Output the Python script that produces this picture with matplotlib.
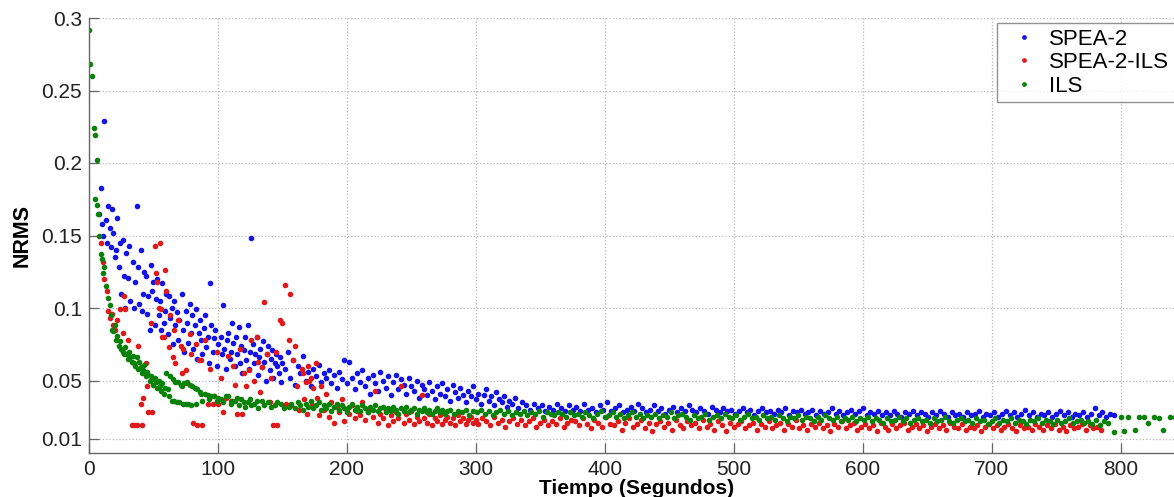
import matplotlib
matplotlib.use('Agg')
import matplotlib.pyplot as plt

plt.rcParams['font.family'] = ['Liberation Sans', 'DejaVu Sans']

# ---- SPEA-2 : (tiempo, NRMS) for the first ~375 s
spea2_early = [
    (8, 0.165), (9, 0.183), (10, 0.158), (11, 0.150), (12, 0.229), (13, 0.161), (14, 0.145),
    (15, 0.170), (16, 0.155), (17, 0.142), (18, 0.168), (19, 0.152), (20, 0.135), (21, 0.140),
    (22, 0.162), (23, 0.128), (24, 0.145), (25, 0.110), (26, 0.147), (27, 0.122), (28, 0.100),
    (29, 0.138), (30, 0.121), (31, 0.143), (32, 0.105), (34, 0.132), (35, 0.100), (36, 0.118),
    (37, 0.170), (38, 0.128), (39, 0.103), (40, 0.140), (41, 0.098), (42, 0.110), (43, 0.125),
    (44, 0.122), (45, 0.096), (46, 0.108), (47, 0.085), (48, 0.130), (49, 0.112), (50, 0.118),
    (51, 0.088), (52, 0.106), (53, 0.120), (54, 0.095), (55, 0.105), (56, 0.085), (57, 0.117),
    (58, 0.090), (59, 0.098), (60, 0.110), (61, 0.082), (62, 0.108), (63, 0.093), (64, 0.100),
    (65, 0.075), (66, 0.105), (67, 0.088), (68, 0.097), (69, 0.078), (70, 0.092), (72, 0.110),
    (73, 0.085), (74, 0.070), (75, 0.098), (76, 0.090), (77, 0.076), (78, 0.103), (79, 0.083),
    (80, 0.095), (81, 0.072), (82, 0.088), (83, 0.099), (84, 0.065), (85, 0.083), (86, 0.092),
    (87, 0.078), (88, 0.068), (89, 0.086), (90, 0.095), (91, 0.073), (92, 0.080), (93, 0.062),
    (94, 0.117), (95, 0.088), (96, 0.070), (97, 0.079), (98, 0.085), (99, 0.060), (100, 0.075),
    (102, 0.080), (103, 0.068), (104, 0.102), (105, 0.072), (106, 0.058), (107, 0.078),
    (108, 0.083), (109, 0.065), (110, 0.070), (111, 0.090), (112, 0.076), (113, 0.060),
    (114, 0.080), (115, 0.068), (116, 0.087), (117, 0.062), (118, 0.074), (119, 0.055),
    (120, 0.071), (121, 0.080), (122, 0.064), (123, 0.088), (124, 0.058), (125, 0.070),
    (126, 0.148), (127, 0.075), (128, 0.062), (129, 0.068), (130, 0.080), (131, 0.054),
    (132, 0.066), (133, 0.072), (134, 0.059), (135, 0.077), (136, 0.063), (137, 0.050),
    (138, 0.068), (139, 0.074), (140, 0.057), (141, 0.065), (142, 0.071), (143, 0.052),
    (144, 0.062), (145, 0.068), (146, 0.060), (147, 0.055), (148, 0.066), (149, 0.049),
    (150, 0.062), (152, 0.058), (154, 0.070), (156, 0.052), (158, 0.064), (160, 0.047),
    (162, 0.060), (164, 0.055), (166, 0.067), (168, 0.050), (170, 0.056), (172, 0.046),
    (174, 0.058), (176, 0.053), (178, 0.061), (180, 0.049), (182, 0.055), (184, 0.052),
    (186, 0.057), (188, 0.048), (190, 0.054), (192, 0.045), (194, 0.056), (196, 0.051),
    (198, 0.064), (200, 0.048), (202, 0.063), (204, 0.052), (206, 0.044), (208, 0.055),
    (210, 0.049), (212, 0.057), (214, 0.046), (216, 0.052), (218, 0.041), (220, 0.054),
    (222, 0.048), (224, 0.043), (226, 0.056), (228, 0.050), (230, 0.045), (232, 0.053),
    (234, 0.040), (236, 0.049), (238, 0.054), (240, 0.044), (242, 0.051), (244, 0.047),
    (246, 0.041), (248, 0.052), (250, 0.046), (252, 0.043), (254, 0.050), (256, 0.038),
    (258, 0.047), (260, 0.044), (262, 0.040), (264, 0.049), (266, 0.043), (268, 0.037),
    (270, 0.046), (272, 0.041), (274, 0.048), (276, 0.039), (278, 0.044), (280, 0.036),
    (282, 0.047), (284, 0.042), (286, 0.038), (288, 0.045), (290, 0.040), (292, 0.035),
    (294, 0.043), (296, 0.039), (298, 0.046), (300, 0.037), (302, 0.041), (304, 0.034),
    (306, 0.040), (308, 0.044), (310, 0.036), (312, 0.039), (314, 0.033), (316, 0.042),
    (318, 0.037), (320, 0.035), (322, 0.039), (324, 0.032), (326, 0.036), (328, 0.034),
    (330, 0.038), (333, 0.031), (336, 0.035), (339, 0.033), (342, 0.030), (345, 0.034),
    (348, 0.031), (351, 0.033), (354, 0.029), (357, 0.032), (360, 0.030), (363, 0.034),
    (366, 0.031), (369, 0.029), (372, 0.033), (375, 0.030),
]
spea2_late_t = [
    378, 381, 384, 387, 390, 393, 396, 399, 402, 405,
    408, 411, 414, 417, 420, 423, 426, 429, 432, 435,
    438, 441, 444, 447, 450, 453, 456, 459, 462, 465,
    468, 471, 474, 477, 480, 483, 486, 489, 492, 495,
    498, 501, 504, 507, 510, 513, 516, 519, 522, 525,
    528, 531, 534, 537, 540, 543, 546, 549, 552, 555,
    558, 561, 564, 567, 570, 573, 576, 579, 582, 585,
    588, 591, 594, 597, 600, 603, 606, 609, 612, 615,
    618, 621, 624, 627, 630, 633, 636, 639, 642, 645,
    648, 651, 654, 657, 660, 663, 666, 669, 672, 675,
    678, 681, 684, 687, 690, 693, 696, 699, 702, 705,
    708, 711, 714, 717, 720, 723, 726, 729, 732, 735,
    738, 741, 744, 747, 750, 753, 756, 759, 762, 765,
    768, 771, 774, 777, 780, 783, 786, 789, 792, 795,
]
spea2_late_v = [
    0.032, 0.029, 0.034, 0.030, 0.031, 0.028, 0.033, 0.030, 0.035, 0.029,
    0.031, 0.033, 0.028, 0.030, 0.032, 0.029, 0.034, 0.031, 0.028, 0.030,
    0.033, 0.029, 0.031, 0.027, 0.030, 0.032, 0.028, 0.031, 0.029, 0.033,
    0.030, 0.028, 0.031, 0.029, 0.027, 0.032, 0.030, 0.028, 0.031, 0.029,
    0.030, 0.027, 0.029, 0.031, 0.028, 0.030, 0.026, 0.029, 0.031, 0.028,
    0.029, 0.027, 0.030, 0.028, 0.031, 0.026, 0.029, 0.028, 0.030, 0.027,
    0.028, 0.030, 0.026, 0.029, 0.027, 0.028, 0.031, 0.027, 0.029, 0.026,
    0.028, 0.030, 0.027, 0.029, 0.031, 0.026, 0.028, 0.027, 0.029, 0.026,
    0.028, 0.026, 0.029, 0.027, 0.025, 0.028, 0.027, 0.029, 0.026, 0.028,
    0.027, 0.025, 0.028, 0.026, 0.029, 0.027, 0.025, 0.028, 0.026, 0.027,
    0.025, 0.028, 0.026, 0.027, 0.029, 0.025, 0.027, 0.026, 0.028, 0.025,
    0.027, 0.029, 0.026, 0.028, 0.025, 0.027, 0.030, 0.026, 0.028, 0.025,
    0.027, 0.026, 0.028, 0.025, 0.027, 0.029, 0.026, 0.028, 0.025, 0.027,
    0.026, 0.028, 0.025, 0.027, 0.031, 0.026, 0.028, 0.025, 0.027, 0.026,
]

# ---- SPEA-2-ILS
spea2ils_early = [
    (9, 0.145), (11, 0.132), (12, 0.120), (14, 0.112), (15, 0.098), (16, 0.093), (18, 0.096),
    (19, 0.088), (20, 0.085), (22, 0.092), (24, 0.099), (26, 0.083), (27, 0.108), (28, 0.099),
    (30, 0.078), (33, 0.019), (35, 0.019), (37, 0.019), (38, 0.074), (40, 0.034), (41, 0.019),
    (42, 0.038), (44, 0.062), (45, 0.046), (46, 0.028), (48, 0.090), (49, 0.028), (51, 0.143),
    (52, 0.124), (53, 0.118), (54, 0.100), (55, 0.145), (56, 0.099), (57, 0.080), (58, 0.080),
    (59, 0.126), (60, 0.112), (62, 0.073), (63, 0.095), (65, 0.066), (66, 0.085), (67, 0.062),
    (69, 0.092), (71, 0.074), (72, 0.055), (73, 0.072), (75, 0.057), (76, 0.048), (78, 0.082),
    (79, 0.068), (81, 0.021), (83, 0.075), (84, 0.019), (85, 0.064), (87, 0.064), (88, 0.019),
    (90, 0.078), (92, 0.034), (94, 0.058), (96, 0.034), (97, 0.039), (99, 0.070), (100, 0.034),
    (102, 0.052), (104, 0.028), (106, 0.038), (108, 0.067), (110, 0.036), (112, 0.060),
    (113, 0.047), (115, 0.027), (117, 0.072), (119, 0.027), (120, 0.055), (122, 0.046),
    (124, 0.057), (126, 0.078), (128, 0.050), (130, 0.080), (131, 0.063), (133, 0.042),
    (134, 0.059), (136, 0.104), (138, 0.068), (140, 0.035), (141, 0.052), (143, 0.019),
    (145, 0.070), (146, 0.019), (148, 0.092), (150, 0.090), (152, 0.116), (153, 0.034),
    (155, 0.078), (156, 0.110), (157, 0.033), (158, 0.064), (160, 0.074), (161, 0.046),
    (163, 0.030), (165, 0.058), (166, 0.055), (167, 0.037), (168, 0.049), (169, 0.027),
    (170, 0.060), (171, 0.050), (172, 0.052), (173, 0.033), (174, 0.045), (176, 0.062),
    (177, 0.038), (178, 0.026), (180, 0.046), (182, 0.030), (184, 0.041), (186, 0.025),
    (188, 0.035), (190, 0.021), (192, 0.032), (194, 0.028), (196, 0.037), (198, 0.022),
    (200, 0.030), (202, 0.027), (204, 0.033), (206, 0.024), (208, 0.029), (210, 0.026),
    (212, 0.035), (214, 0.023), (216, 0.028), (218, 0.031), (220, 0.025), (222, 0.043),
    (224, 0.021), (226, 0.027), (228, 0.024), (230, 0.030), (232, 0.019), (234, 0.026),
    (236, 0.022), (238, 0.028), (240, 0.024), (242, 0.046), (244, 0.021), (246, 0.027),
    (248, 0.023), (250, 0.029), (252, 0.020), (254, 0.025), (256, 0.022), (258, 0.040),
    (260, 0.024), (262, 0.021), (264, 0.027), (266, 0.019), (268, 0.024), (270, 0.022),
    (272, 0.026), (274, 0.020), (276, 0.023), (278, 0.025), (280, 0.021), (282, 0.024),
    (284, 0.019), (286, 0.026), (288, 0.022), (290, 0.024), (292, 0.020), (294, 0.023),
    (296, 0.025), (298, 0.021), (300, 0.023), (302, 0.020), (305, 0.024), (308, 0.022),
    (311, 0.019), (314, 0.025), (317, 0.021), (320, 0.023), (323, 0.018), (326, 0.022),
    (329, 0.024), (332, 0.020), (335, 0.023), (338, 0.019), (341, 0.022), (344, 0.024),
    (347, 0.018), (350, 0.021), (353, 0.023), (356, 0.019), (359, 0.022), (362, 0.020),
    (365, 0.024), (368, 0.018), (371, 0.021), (374, 0.023),
]
spea2ils_late_t = [
    377, 380, 383, 386, 389, 392, 395, 398, 401, 404,
    407, 410, 413, 416, 419, 422, 425, 428, 431, 434,
    437, 440, 443, 446, 449, 452, 455, 458, 461, 464,
    467, 470, 473, 476, 479, 482, 485, 488, 491, 494,
    497, 500, 503, 506, 509, 512, 515, 518, 521, 524,
    527, 530, 533, 536, 539, 542, 545, 548, 551, 554,
    557, 560, 563, 566, 569, 572, 575, 578, 581, 584,
    587, 590, 593, 596, 599, 602, 605, 608, 611, 614,
    617, 620, 623, 626, 629, 632, 635, 638, 641, 644,
    647, 650, 653, 656, 659, 662, 665, 668, 671, 674,
    677, 680, 683, 686, 689, 692, 695, 698, 701, 704,
    707, 710, 713, 716, 719, 722, 725, 728, 731, 734,
    737, 740, 743, 746, 749, 752, 755, 758, 761, 764,
    767, 770, 773, 776, 779, 782, 785,
]
spea2ils_late_v = [
    0.022, 0.019, 0.024, 0.020, 0.017, 0.023, 0.021, 0.018, 0.025, 0.020,
    0.019, 0.022, 0.016, 0.021, 0.024, 0.018, 0.020, 0.023, 0.017, 0.021,
    0.015, 0.020, 0.022, 0.018, 0.021, 0.016, 0.023, 0.019, 0.017, 0.022,
    0.019, 0.021, 0.017, 0.023, 0.018, 0.020, 0.016, 0.022, 0.019, 0.015,
    0.021, 0.018, 0.020, 0.022, 0.017, 0.019, 0.021, 0.016, 0.020, 0.018,
    0.022, 0.017, 0.019, 0.021, 0.016, 0.020, 0.018, 0.023, 0.017, 0.019,
    0.016, 0.020, 0.018, 0.021, 0.017, 0.019, 0.015, 0.020, 0.018, 0.022,
    0.017, 0.019, 0.021, 0.016, 0.018, 0.020, 0.017, 0.019, 0.015, 0.021,
    0.018, 0.016, 0.020, 0.017, 0.019, 0.021, 0.016, 0.018, 0.020, 0.017,
    0.019, 0.015, 0.018, 0.020, 0.017, 0.019, 0.016, 0.021, 0.018, 0.017,
    0.020, 0.016, 0.018, 0.017, 0.019, 0.015, 0.018, 0.020, 0.017, 0.019,
    0.016, 0.018, 0.020, 0.017, 0.015, 0.019, 0.017, 0.018, 0.016, 0.020,
    0.018, 0.016, 0.019, 0.017, 0.020, 0.016, 0.018, 0.015, 0.019, 0.017,
    0.018, 0.020, 0.016, 0.019, 0.017, 0.018, 0.016,
]

# ---- ILS
ils_early = [
    (0, 0.292), (1, 0.268), (2, 0.260), (4, 0.224), (4.5, 0.219), (6, 0.202), (5, 0.175),
    (6.5, 0.171), (7, 0.165), (8, 0.150), (9, 0.137), (10, 0.134), (11, 0.124), (12, 0.128),
    (13, 0.115), (15, 0.107), (16, 0.102), (17, 0.095), (18, 0.085), (19, 0.084), (20, 0.088),
    (21, 0.078), (22, 0.081), (23, 0.074), (24, 0.077), (25, 0.072), (26, 0.070), (27, 0.068),
    (28, 0.073), (29, 0.068), (30, 0.065), (31, 0.070), (32, 0.066), (33, 0.063), (34, 0.067),
    (35, 0.062), (36, 0.060), (37, 0.066), (38, 0.058), (39, 0.063), (40, 0.059), (41, 0.055),
    (42, 0.057), (43, 0.061), (44, 0.053), (45, 0.056), (46, 0.054), (47, 0.050), (48, 0.053),
    (49, 0.051), (50, 0.047), (51, 0.052), (52, 0.049), (53, 0.045), (54, 0.050), (55, 0.046),
    (56, 0.043), (57, 0.048), (58, 0.041), (59, 0.045), (60, 0.055), (61, 0.044), (62, 0.039),
    (63, 0.053), (64, 0.036), (65, 0.051), (66, 0.036), (67, 0.049), (68, 0.035), (69, 0.049),
    (70, 0.035), (71, 0.047), (72, 0.046), (73, 0.034), (74, 0.048), (75, 0.034), (76, 0.049),
    (77, 0.034), (78, 0.047), (79, 0.033), (80, 0.046), (82, 0.045), (83, 0.034), (84, 0.044),
    (86, 0.042), (87, 0.041), (88, 0.036), (90, 0.041), (92, 0.040), (93, 0.037), (95, 0.039),
    (97, 0.039), (99, 0.036), (100, 0.038), (102, 0.037), (104, 0.035), (106, 0.039),
    (108, 0.039), (110, 0.034), (111, 0.036), (113, 0.036), (115, 0.038), (116, 0.033),
    (118, 0.037), (120, 0.035), (121, 0.032), (123, 0.035), (125, 0.037), (126, 0.033),
    (128, 0.034), (130, 0.036), (131, 0.031), (134, 0.036), (136, 0.033), (139, 0.035),
    (141, 0.032), (144, 0.033), (146, 0.035), (149, 0.034), (151, 0.031), (155, 0.032),
    (157, 0.034), (160, 0.031), (162, 0.035), (164, 0.033), (166, 0.030), (168, 0.034),
    (170, 0.032), (172, 0.036), (174, 0.031), (176, 0.033), (178, 0.035), (180, 0.030),
    (182, 0.033), (184, 0.031), (186, 0.034), (188, 0.029), (190, 0.032), (192, 0.034),
    (194, 0.030), (196, 0.033), (198, 0.031), (200, 0.028), (202, 0.032), (204, 0.034),
    (206, 0.030), (208, 0.032), (210, 0.029), (212, 0.033), (214, 0.031), (216, 0.028),
    (218, 0.032), (220, 0.030), (222, 0.033), (224, 0.029), (226, 0.031), (228, 0.032),
    (230, 0.028), (232, 0.031), (234, 0.029), (236, 0.032), (238, 0.030), (240, 0.027),
    (242, 0.031), (244, 0.029), (246, 0.032), (248, 0.028), (250, 0.030), (252, 0.031),
    (254, 0.027), (256, 0.030), (258, 0.029), (260, 0.031), (262, 0.028), (264, 0.030),
    (266, 0.027), (268, 0.029), (270, 0.031), (272, 0.028), (274, 0.030), (276, 0.027),
    (278, 0.029), (280, 0.030), (283, 0.027), (286, 0.029), (289, 0.028), (292, 0.030),
    (295, 0.026), (298, 0.029), (301, 0.028), (304, 0.030), (307, 0.027), (310, 0.029),
    (313, 0.026), (316, 0.028), (319, 0.030), (322, 0.027), (325, 0.029), (328, 0.026),
    (331, 0.028), (334, 0.027), (337, 0.029), (340, 0.026), (343, 0.028), (346, 0.027),
    (349, 0.029), (352, 0.025), (355, 0.028), (358, 0.027), (361, 0.026), (364, 0.028),
    (367, 0.027), (370, 0.025), (373, 0.028), (376, 0.026),
]
ils_late_t = [
    379, 382, 385, 388, 391, 394, 397, 400, 403, 406,
    409, 412, 415, 418, 421, 424, 427, 430, 433, 436,
    439, 442, 445, 448, 451, 454, 457, 460, 463, 466,
    469, 472, 475, 478, 481, 484, 487, 490, 493, 496,
    499, 502, 505, 508, 511, 514, 517, 520, 523, 526,
    529, 532, 535, 538, 541, 544, 547, 550, 553, 556,
    559, 562, 565, 568, 571, 574, 577, 580, 583, 586,
    589, 592, 595, 598, 601, 604, 607, 610, 613, 616,
    619, 622, 625, 628, 631, 634, 637, 640, 643, 646,
    649, 652, 655, 658, 661, 664, 667, 670, 673, 676,
    679, 682, 685, 688, 691, 694, 697, 700, 703, 706,
    709, 712, 715, 718, 721, 724, 727, 730, 733, 736,
    739, 742, 745, 748, 751, 754, 757, 760, 763, 766,
    769, 772, 775, 778, 781, 784, 787, 790,
    795, 800, 803, 806, 811, 814, 818, 821, 826, 830, 833, 838, 842, 846,
]
ils_late_v = [
    0.027, 0.025, 0.028, 0.026, 0.024, 0.027, 0.029, 0.025, 0.026, 0.028,
    0.025, 0.027, 0.024, 0.026, 0.028, 0.025, 0.027, 0.024, 0.026, 0.025,
    0.027, 0.024, 0.026, 0.025, 0.028, 0.024, 0.026, 0.027, 0.025, 0.023,
    0.026, 0.024, 0.025, 0.027, 0.023, 0.025, 0.026, 0.024, 0.027, 0.025,
    0.024, 0.026, 0.023, 0.025, 0.027, 0.024, 0.025, 0.023, 0.026, 0.024,
    0.025, 0.023, 0.026, 0.024, 0.022, 0.025, 0.024, 0.026, 0.023, 0.025,
    0.024, 0.022, 0.025, 0.023, 0.026, 0.024, 0.023, 0.025, 0.022, 0.024,
    0.023, 0.025, 0.022, 0.024, 0.023, 0.025, 0.022, 0.024, 0.023, 0.021,
    0.024, 0.022, 0.023, 0.025, 0.022, 0.024, 0.021, 0.023, 0.024, 0.022,
    0.023, 0.021, 0.024, 0.022, 0.023, 0.025, 0.022, 0.021, 0.023, 0.024,
    0.022, 0.023, 0.021, 0.024, 0.022, 0.023, 0.020, 0.022, 0.024, 0.021,
    0.023, 0.022, 0.024, 0.021, 0.023, 0.022, 0.020, 0.023, 0.022, 0.024,
    0.021, 0.023, 0.022, 0.020, 0.023, 0.021, 0.022, 0.024, 0.021, 0.022,
    0.023, 0.021, 0.022, 0.020, 0.023, 0.019, 0.022, 0.021,
    0.0145, 0.025, 0.015, 0.025, 0.016, 0.025, 0.025, 0.021, 0.025, 0.024, 0.016, 0.025, 0.025, 0.021,
]

series_names = ['SPEA-2', 'SPEA-2-ILS', 'ILS']
series_colors = ['#1414e6', '#e01a1a', '#0a820a']
x_ticks = [0, 100, 200, 300, 400, 500, 600, 700, 800]
y_ticks = [0.01, 0.05, 0.1, 0.15, 0.2, 0.25, 0.3]
y_tick_labels = ['0.01', '0.05', '0.1', '0.15', '0.2', '0.25', '0.3']


def join(early, late_t, late_v):
    t = [p[0] for p in early] + list(late_t)
    v = [p[1] for p in early] + list(late_v)
    return t, v


data = [
    join(spea2_early, spea2_late_t, spea2_late_v),
    join(spea2ils_early, spea2ils_late_t, spea2ils_late_v),
    join(ils_early, ils_late_t, ils_late_v),
]

fig = plt.figure(figsize=(11.74, 4.97), dpi=100)
ax = fig.add_axes([89 / 1174, 44 / 497, 1096 / 1174, 435 / 497])

for (t, v), name, col in zip(data, series_names, series_colors):
    ax.plot(t, v, linestyle='none', marker='.', ms=6, color=col, label=name)

ax.set_xlim(0, 850)
ax.set_ylim(0, 0.3)
ax.set_xticks(x_ticks)
ax.set_yticks(y_ticks)
ax.set_yticklabels(y_tick_labels)
ax.grid(True, linestyle=':', color='#b8b8b8', linewidth=0.9)
ax.set_axisbelow(True)

for side in ['top', 'right']:
    ax.spines[side].set_visible(False)
for side in ['left', 'bottom']:
    ax.spines[side].set_color('#666666')
    ax.spines[side].set_linewidth(1.0)

ax.tick_params(direction='in', length=7, width=0.9, color='#666666',
               labelsize=15, labelcolor='#222222', pad=5)

ax.set_xlabel('Tiempo (Segundos)', fontsize=15, fontweight='bold', labelpad=0)
ax.set_ylabel('NRMS', fontsize=15.5, fontweight='bold', labelpad=6)

leg = ax.legend(loc='upper left', bbox_to_anchor=(997 / 1174, 1 - 23 / 497),
                bbox_transform=fig.transFigure, fontsize=16, frameon=True,
                fancybox=False, borderpad=0.25, labelspacing=0.12,
                handlelength=1.9, handletextpad=0.2, borderaxespad=0,
                markerscale=0.8)
leg.get_frame().set_edgecolor('#777777')
leg.get_frame().set_linewidth(1.0)

fig.savefig('out.png', dpi=100)
